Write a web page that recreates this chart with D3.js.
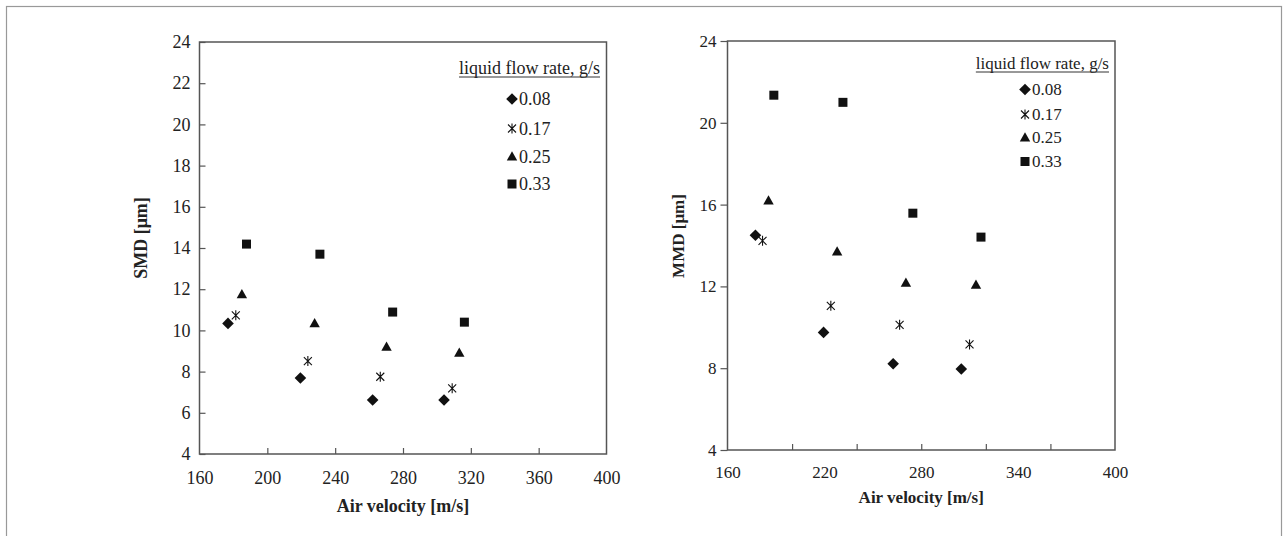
<!DOCTYPE html>
<html><head><meta charset="utf-8">
<script src="https://cdn.jsdelivr.net/npm/d3@7/dist/d3.min.js"></script>
<style>
body{margin:0;background:#fff}
svg{display:block}
text{font-family:"Liberation Serif","DejaVu Serif",serif;fill:#222}
</style>
</head><body>
<svg id="c" width="1287" height="536"></svg>
<script>
// ---------- data ----------
const seriesNames = ["0.08", "0.17", "0.25", "0.33"];
const seriesShapes = ["diamond", "asterisk", "triangle", "square"];

// SMD panel (left)
const smdVel008 = [176.8, 219.5, 262.1, 304.2];
const smdVal008 = [10.34, 7.69, 6.62, 6.62];
const smdVel017 = [181.4, 223.9, 266.6, 309.0];
const smdVal017 = [10.73, 8.51, 7.75, 7.19];
const smdVel025 = [185.0, 227.9, 270.3, 313.2];
const smdVal025 = [11.76, 10.35, 9.21, 8.92];
const smdVel033 = [187.7, 231.0, 273.9, 316.2];
const smdVal033 = [14.19, 13.70, 10.89, 10.40];

// MMD panel (right)
const mmdVel008 = [177.3, 219.5, 262.6, 304.8];
const mmdVal008 = [14.50, 9.75, 8.22, 7.96];
const mmdVel017 = [181.7, 224.0, 266.6, 309.9];
const mmdVal017 = [14.23, 11.05, 10.12, 9.16];
const mmdVel025 = [185.4, 227.9, 270.5, 313.9];
const mmdVal025 = [16.20, 13.71, 12.18, 12.08];
const mmdVel033 = [188.7, 231.5, 274.8, 317.0];
const mmdVal033 = [21.35, 21.00, 15.58, 14.41];

// ticks
const smdXLabels = [160, 200, 240, 280, 320, 360, 400];
const smdXMarks = [200, 240, 280, 320, 360];
const smdYTicks = [4, 6, 8, 10, 12, 14, 16, 18, 20, 22, 24];
const mmdXLabels = [160, 220, 280, 340, 400];
const mmdXMarks = [200, 240, 280, 320, 360];
const mmdYTicks = [4, 8, 12, 16, 20, 24];

const xTitle = "Air velocity [m/s]";
const legendTitle = "liquid flow rate, g/s";

// ---------- drawing ----------
const svg = d3.select("#c");
svg.append("rect").attr("x", 6.5).attr("y", 6.5).attr("width", 1275).attr("height", 560)
  .attr("fill", "none").attr("stroke", "#999").attr("stroke-width", 1.2);

function markerPath(shape) {
  switch (shape) {
    case "diamond": return "M0,-5.8L5.8,0L0,5.8L-5.8,0Z";
    case "square": return "M-4.5,-4.5H4.5V4.5H-4.5Z";
    case "triangle": return "M0,-5.2L5.2,4H-5.2Z";
    case "asterisk": return "M0,-5V5M-4,-4L4,4M-4,4L4,-4";
  }
}
function drawMarker(g, shape, x, y) {
  const p = g.append("path").attr("d", markerPath(shape)).attr("transform", `translate(${x},${y})`);
  if (shape === "asterisk") p.attr("fill", "none").attr("stroke", "#111").attr("stroke-width", 1.1);
  else p.attr("fill", "#111");
}

const panels = [
  {
    x0: 199.5, x1: 606.5, y0: 42, y1: 454, fs: 18,
    yLabel: "SMD [μm]", yLabelX: 147, yLabelY: 238,
    xTitleY: 512, xLabelDy: 23,
    xLabels: smdXLabels, xMarks: smdXMarks, yTicks: smdYTicks, yInside: true,
    vel: [smdVel008, smdVel017, smdVel025, smdVel033],
    val: [smdVal008, smdVal017, smdVal025, smdVal033],
    leg: {right: 600, titleY: 74, mx: 512, tx: 519, ys: [99, 128.5, 156.5, 184]}
  },
  {
    x0: 727.5, x1: 1115, y0: 41, y1: 450, fs: 17,
    yLabel: "MMD [μm]", yLabelX: 684, yLabelY: 236,
    xTitleY: 503, xLabelDy: 22,
    xLabels: mmdXLabels, xMarks: mmdXMarks, yTicks: mmdYTicks, yInside: false,
    vel: [mmdVel008, mmdVel017, mmdVel025, mmdVel033],
    val: [mmdVal008, mmdVal017, mmdVal025, mmdVal033],
    leg: {right: 1109, titleY: 69, mx: 1025, tx: 1032, ys: [89.5, 114.5, 137.5, 161.5]}
  }
];

panels.forEach(P => {
  const x = d3.scaleLinear().domain([160, 400]).range([P.x0, P.x1]);
  const y = d3.scaleLinear().domain([4, 24]).range([P.y1, P.y0]);
  const g = svg.append("g");

  // x tick marks (inside)
  g.append("g").attr("transform", `translate(0,${P.y1})`)
    .call(d3.axisBottom(x).tickValues(P.xMarks).tickSize(-6).tickFormat(""))
    .call(a => a.select(".domain").remove())
    .call(a => a.selectAll("line").attr("stroke", "#555").attr("stroke-width", 1.2));
  // x labels
  g.append("g").attr("transform", `translate(0,${P.y1})`)
    .call(d3.axisBottom(x).tickValues(P.xLabels).tickSize(0).tickPadding(P.xLabelDy - 6))
    .call(a => a.select(".domain").remove())
    .call(a => a.selectAll("text").attr("font-size", P.fs).attr("font-family", "Liberation Serif").attr("fill", "#222"));
  // y axis
  const ya = d3.axisLeft(y).tickValues(P.yTicks).tickSize(P.yInside ? -6 : 7).tickPadding(P.yInside ? 9 : 4);
  g.append("g").attr("transform", `translate(${P.x0},0)`)
    .call(ya)
    .call(a => a.select(".domain").remove())
    .call(a => a.selectAll("line").attr("stroke", "#555").attr("stroke-width", 1.2))
    .call(a => a.selectAll("text").attr("font-size", P.fs).attr("font-family", "Liberation Serif").attr("fill", "#222"));

  // frame
  g.append("rect").attr("x", P.x0).attr("y", P.y0).attr("width", P.x1 - P.x0).attr("height", P.y1 - P.y0)
    .attr("fill", "none").attr("stroke", "#555").attr("stroke-width", 1.5);

  // axis titles
  g.append("text").attr("x", (P.x0 + P.x1) / 2).attr("y", P.xTitleY).attr("text-anchor", "middle")
    .attr("font-weight", "bold").attr("font-size", P.fs).text(xTitle);
  g.append("text").attr("transform", `translate(${P.yLabelX},${P.yLabelY}) rotate(-90)`)
    .attr("text-anchor", "middle").attr("font-weight", "bold").attr("font-size", P.fs).text(P.yLabel);

  // points
  seriesNames.forEach((s, i) => {
    P.vel[i].forEach((v, k) => drawMarker(g, seriesShapes[i], x(v), y(P.val[i][k])));
  });

  // legend
  const L = P.leg;
  const t = g.append("text").attr("x", L.right).attr("y", L.titleY).attr("text-anchor", "end")
    .attr("font-size", P.fs).text(legendTitle);
  const bb = t.node().getBBox();
  g.append("line").attr("x1", bb.x).attr("x2", bb.x + bb.width).attr("y1", L.titleY + 3).attr("y2", L.titleY + 3)
    .attr("stroke", "#333").attr("stroke-width", 1);
  seriesNames.forEach((s, i) => {
    drawMarker(g, seriesShapes[i], L.mx, L.ys[i]);
    g.append("text").attr("x", L.tx).attr("y", L.ys[i]).attr("dy", "0.35em").attr("font-size", P.fs).text(s);
  });
});
</script>
</body></html>
